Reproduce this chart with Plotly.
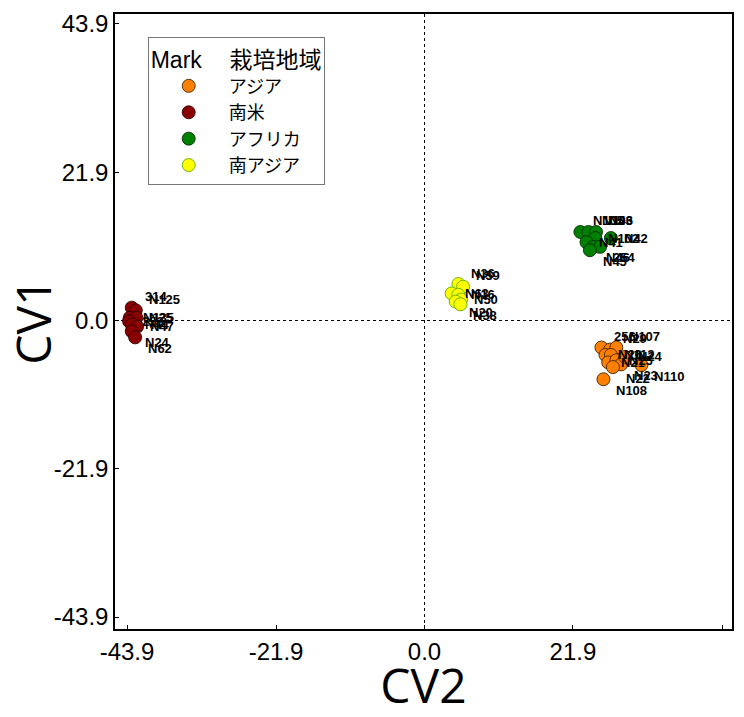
import numpy as np
import plotly.graph_objects as go

# Canonical variate scores (CV2 on x, CV1 on y) for each cultivation region
asia_names = ["256", "N29", "N107", "N26", "N112", "N21", "N25", "N23", "N24", "N108", "N22", "N110"]
asia_cv2 = [26.1, 27.4, 28.3, 26.7, 27.5, 27.1, 28.3, 29.0, 29.6, 26.4, 27.8, 32.0]
asia_cv1 = [-4.0, -4.3, -4.0, -5.1, -5.1, -6.2, -5.9, -6.5, -5.4, -8.7, -6.9, -6.6]

samerica_names = ["314", "N125", "N135", "N25", "253", "N44", "N47", "N24", "N62"]
samerica_cv2 = [-43.2, -42.6, -43.5, -42.5, -43.6, -43.2, -42.4, -43.2, -42.7]
samerica_cv1 = [1.9, 1.5, 0.4, 0.4, -0.1, -0.6, -0.9, -1.6, -2.5]

africa_names = ["N105", "N106", "N43", "N102", "N41", "N46", "254", "N45", "N42"]
africa_cv2 = [23.0, 24.2, 25.3, 25.2, 23.9, 24.9, 25.9, 24.4, 27.5]
africa_cv1 = [13.1, 13.1, 13.1, 12.2, 11.6, 10.9, 10.9, 10.4, 12.2]

sasia_names = ["N36", "N59", "N63", "N16", "N50", "N20", "N38"]
sasia_cv2 = [5.0, 5.7, 4.0, 5.0, 5.4, 4.6, 5.3]
sasia_cv1 = [5.4, 5.0, 4.0, 3.8, 3.1, 2.8, 2.4]

tick_vals = [-43.9, -21.9, 0.0, 21.9, 43.9]
tick_text = ["-43.9", "-21.9", "0.0", "21.9", "43.9"]

groups = [
    ("アジア", asia_names, asia_cv2, asia_cv1, "#ff8000", "rgba(60,30,0,0.85)"),
    ("南米", samerica_names, samerica_cv2, samerica_cv1, "#8b0000", "rgba(40,0,0,0.85)"),
    ("アフリカ", africa_names, africa_cv2, africa_cv1, "#008000", "rgba(0,40,0,0.85)"),
    ("南アジア", sasia_names, sasia_cv2, sasia_cv1, "#ffff00", "#6cb800"),
]


def label_shifts(y):
    """Vertical pixel shift for each point label: above, beside or below its point
    depending on where the point sits within its cluster."""
    y = np.asarray(y, dtype=float)
    mid = np.median(y)
    out = []
    for v in y:
        d = v - mid
        out.append(11 if d > 0.8 else (-11 if d < -0.8 else 0))
    return out


fig = go.Figure()
annotations = []

for name, labels, xs, ys, fill, edge in groups:
    fig.add_trace(go.Scatter(
        x=xs, y=ys, name=name, text=labels,
        mode="markers",
        hovertemplate="%{text}<extra>" + name + "</extra>",
        marker=dict(size=13, color=fill, line=dict(color=edge, width=1)),
        cliponaxis=False,
    ))
    for lab, xv, yv, dy in zip(labels, xs, ys, label_shifts(ys)):
        annotations.append(dict(
            x=xv, y=yv, xref="x", yref="y", text=lab, showarrow=False,
            xanchor="left", yanchor="middle", xshift=11, yshift=dy,
            font=dict(family="Liberation Sans, Arial", size=13, color="black",
                      weight="bold"),
        ))

# Dotted reference lines through the origin
fig.add_shape(type="line", xref="x", yref="paper", x0=0, x1=0, y0=0, y1=1,
              line=dict(color="black", width=1, dash="dot"), layer="below")
fig.add_shape(type="line", xref="paper", yref="y", x0=0, x1=1, y0=0, y1=0,
              line=dict(color="black", width=1, dash="dot"), layer="below")

axis_common = dict(
    range=[-45.67, 45.37],
    tickvals=tick_vals, ticktext=tick_text,
    showline=True, linecolor="black", linewidth=1.5, mirror=True,
    ticks="inside", ticklen=4, tickcolor="black",
    showgrid=False, zeroline=False,
    tickfont=dict(family="Liberation Sans, Arial", size=24, color="black"),
)

fig.update_layout(
    width=744, height=717,
    margin=dict(l=115, r=11, t=10, b=88),
    plot_bgcolor="white", paper_bgcolor="white",
    xaxis=dict(**axis_common,
               title=dict(text="CV2", standoff=8,
                          font=dict(family="Open Sans", size=48, color="black"))),
    yaxis=dict(**axis_common,
               title=dict(text="CV1", standoff=8,
                          font=dict(family="Open Sans", size=48, color="black"))),
    legend=dict(
        x=0.053, y=0.963, xanchor="left", yanchor="top",
        bgcolor="white", bordercolor="#777777", borderwidth=1,
        itemwidth=70,
        title=dict(text="Mark\u2003\u2009栽培地域",
                   font=dict(family="Liberation Sans, Noto Sans CJK JP", size=23, color="black")),
        font=dict(family="Noto Sans CJK JP", size=18, color="black"),
    ),
    annotations=annotations,
    showlegend=True,
)

fig.write_html("out.html")
